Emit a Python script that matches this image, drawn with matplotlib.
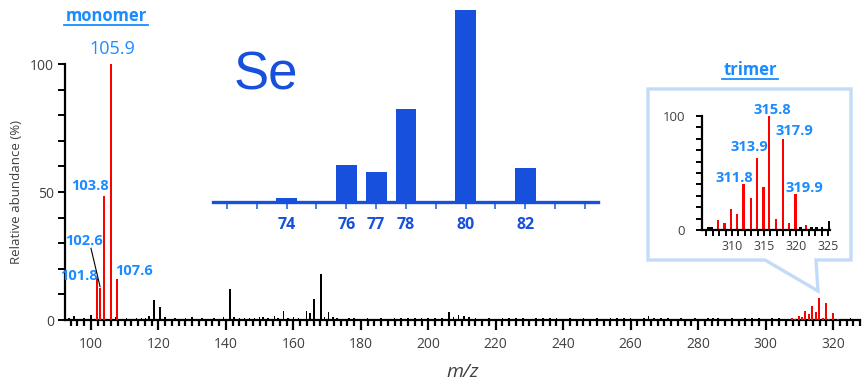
import numpy as np
import matplotlib.pyplot as plt
from matplotlib.patches import Polygon
from matplotlib.lines import Line2D
from matplotlib.ticker import MultipleLocator

plt.rcParams['font.family'] = ['Open Sans', 'DejaVu Sans']

W, H = 865, 383

LBL_BLUE = '#1a8cff'
SE_BLUE = '#1750dc'
TXT_GRAY = '#404040'

# monomer peaks (red) in main spectrum
mono_mz = [101.8, 102.6, 103.8, 105.9, 107.6]
mono_ab = [16.4, 12.5, 48.4, 100.0, 16.0]

# trimer cluster, relative to its own max (inset scale)
trimer_mz = [307.8, 308.8, 309.8, 310.8, 311.8, 312.9, 313.9, 314.9, 315.8,
             316.9, 317.9, 318.9, 319.9, 321.6]
trimer_ab = [8.7, 5.8, 18.0, 14.0, 40.0, 28.0, 63.0, 37.6, 100.0,
             10.0, 79.6, 5.8, 31.5, 4.4]
trimer_bg_mz = [306.3, 306.8, 320.7, 322.4, 323.2, 324.1, 325.2]
trimer_bg_ab = [3.0, 3.0, 3.0, 3.0, 2.5, 2.5, 8.0]
trimer_max_main = 8.5   # height of 315.8 in the main spectrum (%)

# background peaks (black) in main spectrum
noise_mz = [93.5, 95.0, 96.5, 98.0, 100.0, 107.3, 109.0, 110.5, 112.0, 113.5,
            115.0, 116.2, 117.3, 118.6, 120.4, 122.0, 123.5, 125.0, 126.5, 128.0,
            130.0, 131.5, 133.0, 135.0, 136.5, 138.0, 139.3, 141.2, 142.5, 144.0,
            145.5, 147.0, 148.5, 150.0, 151.1, 152.5, 154.4, 155.5, 157.1, 158.5,
            160.0, 161.5, 163.9, 165.0, 166.2, 168.2, 169.2, 170.4, 171.8, 173.0,
            175.0, 176.5, 178.0, 180.0, 182.0, 184.0, 186.0, 188.0, 190.0, 192.0,
            194.0, 196.0, 198.0, 200.0, 202.0, 204.0, 206.1, 207.5, 209.0, 210.5,
            212.0, 214.0, 216.0, 218.0, 220.0, 222.0, 224.0, 226.0, 228.0, 230.0,
            232.0, 234.0, 236.0, 238.0, 240.0, 242.0, 244.0, 246.0, 248.0, 250.0,
            252.0, 254.0, 256.0, 258.0, 260.0, 262.0, 264.0, 265.3, 267.0, 269.0,
            271.0, 273.0, 275.0, 277.0, 279.0, 281.0, 283.0, 284.5, 286.0, 288.0,
            290.0, 292.0, 294.0, 296.0, 298.0, 300.0, 302.0, 304.0, 326.8]
noise_ab = [0.6, 1.6, 0.5, 0.7, 2.0, 1.2, 0.5, 0.6, 0.5, 0.7,
            0.6, 0.9, 1.5, 8.0, 5.0, 1.0, 0.5, 0.6, 0.5, 0.6,
            1.0, 0.5, 0.6, 0.5, 0.6, 0.5, 1.0, 12.0, 1.0, 0.7,
            0.6, 0.8, 0.9, 1.2, 1.3, 0.6, 1.4, 0.6, 3.5, 0.6,
            1.0, 0.7, 3.5, 2.8, 8.2, 17.8, 1.0, 3.0, 1.1, 0.6,
            0.5, 0.8, 0.6, 0.5, 0.6, 0.5, 0.6, 0.5, 0.6, 0.7,
            0.6, 0.7, 0.6, 0.8, 0.7, 0.9, 3.0, 1.0, 1.8, 1.6,
            1.2, 0.6, 0.5, 0.6, 0.5, 0.9, 0.8, 0.6, 0.7, 0.5,
            0.6, 0.7, 0.8, 0.6, 0.5, 0.6, 0.5, 0.6, 0.5, 0.6,
            0.5, 0.7, 0.6, 0.8, 0.6, 0.5, 0.7, 1.5, 0.6, 0.7,
            0.6, 0.5, 0.6, 0.5, 0.6, 0.5, 0.8, 0.8, 0.6, 0.5,
            0.6, 0.5, 0.6, 0.9, 0.6, 0.5, 0.6, 0.7, 0.5]

# Se natural isotope pattern (relative to 80Se)
se_mass = [74, 76, 77, 78, 80, 82]
se_ab = [2.2, 19.3, 15.6, 48.3, 100.0, 17.9]

# peak labels
trimer_labels = ['311.8', '313.9', '315.8', '317.9', '319.9']


def fig_box(x0, y0, x1, y1):
    # pixel rect (left, top, right, bottom) -> figure fraction [l, b, w, h]
    return [x0 / W, 1 - y1 / H, (x1 - x0) / W, (y1 - y0) / H]


def fpt(x, y):
    return (x / W, 1 - y / H)


fig = plt.figure(figsize=(W / 100, H / 100), dpi=100)

# ---------------- main spectrum ----------------
ax = fig.add_axes(fig_box(65, 64, 860, 320))
ax.set_facecolor('none')
ax.bar(noise_mz, noise_ab, width=0.5, color='black', zorder=2)
ax.bar(trimer_bg_mz, np.array(trimer_bg_ab) * trimer_max_main / 100, width=0.5,
       color='black', zorder=2)
ax.bar(mono_mz, mono_ab, width=0.6, color='red', zorder=3)
ax.bar(trimer_mz, np.array(trimer_ab) * trimer_max_main / 100, width=0.6,
       color='red', zorder=3)

ax.set_xlim(92.3, 328.0)
ax.set_ylim(0, 100)
ax.spines['top'].set_visible(False)
ax.spines['right'].set_visible(False)
ax.spines['left'].set_linewidth(1.6)
ax.spines['bottom'].set_linewidth(1.6)
ax.xaxis.set_major_locator(MultipleLocator(20))
ax.xaxis.set_minor_locator(MultipleLocator(2))
ax.set_yticks([0, 50, 100])
ax.yaxis.set_minor_locator(MultipleLocator(10))
ax.tick_params(axis='x', which='major', length=7, width=1.6, direction='out',
               labelsize=10, labelcolor=TXT_GRAY, pad=5)
ax.tick_params(axis='x', which='minor', length=4.5, width=1.6, direction='out')
ax.tick_params(axis='y', which='both', length=5, width=1.4, direction='out',
               labelsize=10, labelcolor=TXT_GRAY, pad=3)
ax.set_ylabel('Relative abundance (%)', fontsize=9.5, color=TXT_GRAY, labelpad=5)
ax.set_xlabel('m/z', fontsize=14, style='italic', color=TXT_GRAY, labelpad=8)

ax.text(106.2, 106, '105.9', ha='center', va='center', fontsize=13,
        color=LBL_BLUE, clip_on=False)
ax.text(99.7, 52.5, '103.8', ha='center', va='center', fontsize=10.5,
        fontweight='bold', color=LBL_BLUE)
ax.text(98.0, 31, '102.6', ha='center', va='center', fontsize=10.5,
        fontweight='bold', color=LBL_BLUE)
ax.text(96.4, 17.3, '101.8', ha='center', va='center', fontsize=10.5,
        fontweight='bold', color=LBL_BLUE)
ax.text(112.8, 19.2, '107.6', ha='center', va='center', fontsize=10.5,
        fontweight='bold', color=LBL_BLUE)
ax.plot([100.0, 102.7], [28.0, 13.0], color='black', lw=0.8, zorder=4)

# ---------------- Se isotope inset ----------------
ax_se = fig.add_axes(fig_box(213, 10, 598, 202))
ax_se.set_facecolor('none')
ax_se.bar(se_mass, se_ab, width=0.7, color=SE_BLUE)
ax_se.set_xlim(71.53, 84.44)
ax_se.set_ylim(0, 100)
for s in ['top', 'right', 'left']:
    ax_se.spines[s].set_visible(False)
ax_se.spines['bottom'].set_color(SE_BLUE)
ax_se.spines['bottom'].set_linewidth(2.4)
ax_se.set_yticks([])
se_ticks = list(range(72, 85))
ax_se.set_xticks(se_ticks)
ax_se.set_xticklabels([str(t) if t in se_mass else '' for t in se_ticks])
ax_se.tick_params(axis='x', length=5, width=1.4, color='#4a7ee6', direction='out',
                  labelsize=11.5, labelcolor=SE_BLUE, pad=6)
for lbl in ax_se.get_xticklabels():
    lbl.set_fontweight('bold')
fig.text(*fpt(266, 76), 'Se', ha='center', va='center', fontsize=38,
         color=SE_BLUE, family=['Liberation Sans', 'DejaVu Sans'])

# ---------------- trimer callout ----------------
callout = Polygon([fpt(648, 89), fpt(851, 89), fpt(851, 260), fpt(816, 260),
                   fpt(818, 291), fpt(765, 260), fpt(648, 260)],
                  closed=True, transform=fig.transFigure, facecolor='white',
                  edgecolor='#c4dbf7', linewidth=2.4, zorder=1)
fig.add_artist(callout)

ax_tr = fig.add_axes(fig_box(702, 116, 830, 230))
ax_tr.set_zorder(3)
ax_tr.set_facecolor('none')
ax_tr.bar(trimer_bg_mz, trimer_bg_ab, width=0.35, color='black')
ax_tr.bar(trimer_mz, trimer_ab, width=0.35, color='red')
ax_tr.set_xlim(305.3, 325.3)
ax_tr.set_ylim(0, 100)
ax_tr.spines['top'].set_visible(False)
ax_tr.spines['right'].set_visible(False)
ax_tr.spines['left'].set_linewidth(1.6)
ax_tr.spines['bottom'].set_linewidth(1.6)
ax_tr.set_xticks([310, 315, 320, 325])
ax_tr.xaxis.set_minor_locator(MultipleLocator(1))
ax_tr.set_yticks([0, 100])
ax_tr.yaxis.set_minor_locator(MultipleLocator(10))
ax_tr.tick_params(axis='x', which='both', length=4, width=1.4, direction='out',
                  labelsize=9, labelcolor=TXT_GRAY, pad=3)
ax_tr.tick_params(axis='y', which='both', length=4, width=1.4, direction='out',
                  labelsize=9.5, labelcolor=TXT_GRAY, pad=8)

tr_lbl_pos = [(310.3, 45.5), (312.7, 72.5), (316.3, 105), (319.8, 86.5), (321.3, 37)]
for (lx, ly), t in zip(tr_lbl_pos, trimer_labels):
    ax_tr.text(lx, ly, t, ha='center', va='center', fontsize=10.5,
               fontweight='bold', color=LBL_BLUE, clip_on=False)

# ---------------- headings ----------------
fig.text(*fpt(106, 16), 'monomer', ha='center', va='center', fontsize=12,
         fontweight='bold', color=LBL_BLUE)
fig.add_artist(Line2D([64 / W, 148 / W], [1 - 25 / H, 1 - 25 / H],
                      transform=fig.transFigure, color=LBL_BLUE, lw=1.3))
fig.text(*fpt(750, 70), 'trimer', ha='center', va='center', fontsize=12,
         fontweight='bold', color=LBL_BLUE)
fig.add_artist(Line2D([722 / W, 778 / W], [1 - 79 / H, 1 - 79 / H],
                      transform=fig.transFigure, color=LBL_BLUE, lw=1.3))

fig.savefig('out.png', dpi=100)
